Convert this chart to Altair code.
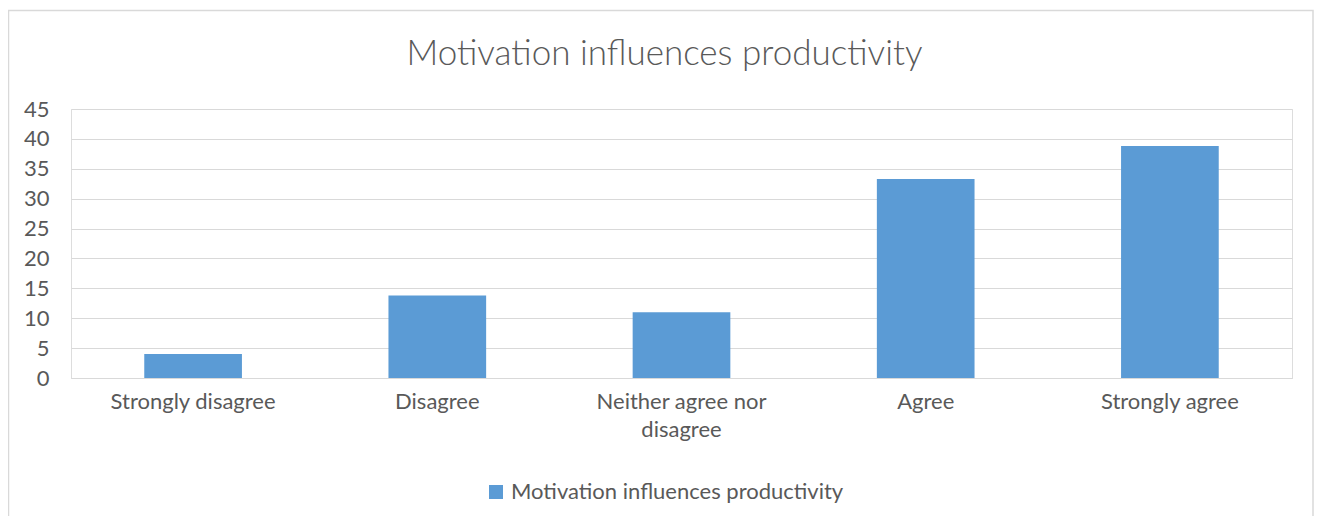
import altair as alt
import pandas as pd

categories = ["Strongly disagree", "Disagree", "Neither agree nor disagree", "Agree", "Strongly agree"]
values = [4, 13.8, 11, 33.3, 38.8]
series_name = "Motivation influences productivity"
y_ticks = [0, 5, 10, 15, 20, 25, 30, 35, 40, 45]

df = pd.DataFrame({"category": categories, "value": values, "series": [series_name] * len(categories)})

FONT = "Lato"
TXT = "#595959"
GRID = "#D9D9D9"
BAR = "#5B9BD5"

W, H = 1221, 269

bars = alt.Chart(df).mark_bar(color=BAR).encode(
    x=alt.X(
        "category:N",
        sort=categories,
        title=None,
        scale=alt.Scale(paddingInner=0.6, paddingOuter=0.3),
        axis=alt.Axis(
            labelAngle=0,
            labelFont=FONT,
            labelFontSize=22,
            labelColor=TXT,
            labelPadding=13,
            labelLineHeight=28,
            labelExpr="datum.value == 'Neither agree nor disagree' ? ['Neither agree nor', 'disagree'] : datum.value",
            ticks=False,
            domainColor=GRID,
            domainWidth=1,
            grid=False,
        ),
    ),
    y=alt.Y(
        "value:Q",
        title=None,
        scale=alt.Scale(domain=[0, 45], nice=False),
        axis=alt.Axis(
            values=y_ticks,
            labelFont=FONT,
            labelFontSize=22,
            labelColor=TXT,
            labelPadding=22,
            ticks=False,
            domain=False,
            gridColor=GRID,
            gridWidth=1,
        ),
    ),
    color=alt.Color(
        "series:N",
        scale=alt.Scale(range=[BAR]),
        legend=alt.Legend(
            title=None,
            orient="none",
            legendX=414,
            legendY=372,
            symbolType="square",
            symbolSize=196,
            symbolStrokeWidth=0,
            labelFont=FONT,
            labelFontSize=22,
            labelColor=TXT,
            labelOffset=4,
            labelLimit=0,
        ),
    ),
)

frame = alt.Chart(pd.DataFrame({"a": [0]})).mark_rect(
    fill="transparent", stroke=GRID, strokeWidth=1.5
).encode(
    x=alt.value(-62.5),
    x2=alt.value(1242),
    y=alt.value(-98.5),
    y2=alt.value(600),
)

chart = alt.layer(frame, bars).properties(
    width=W,
    height=H,
    title=alt.TitleParams(
        text=series_name,
        font=FONT,
        fontSize=35,
        fontWeight=300,
        color=TXT,
        anchor="middle",
        baseline="alphabetic",
        dx=-17,
        dy=90,
        offset=0,
    ),
    autosize=alt.AutoSizeParams(type="none"),
    padding={"left": 63, "top": 101, "right": 22, "bottom": 138},
).configure_view(stroke=None).configure(background="white")

chart.save("out.html", embed_options={"renderer": "svg", "actions": False})
